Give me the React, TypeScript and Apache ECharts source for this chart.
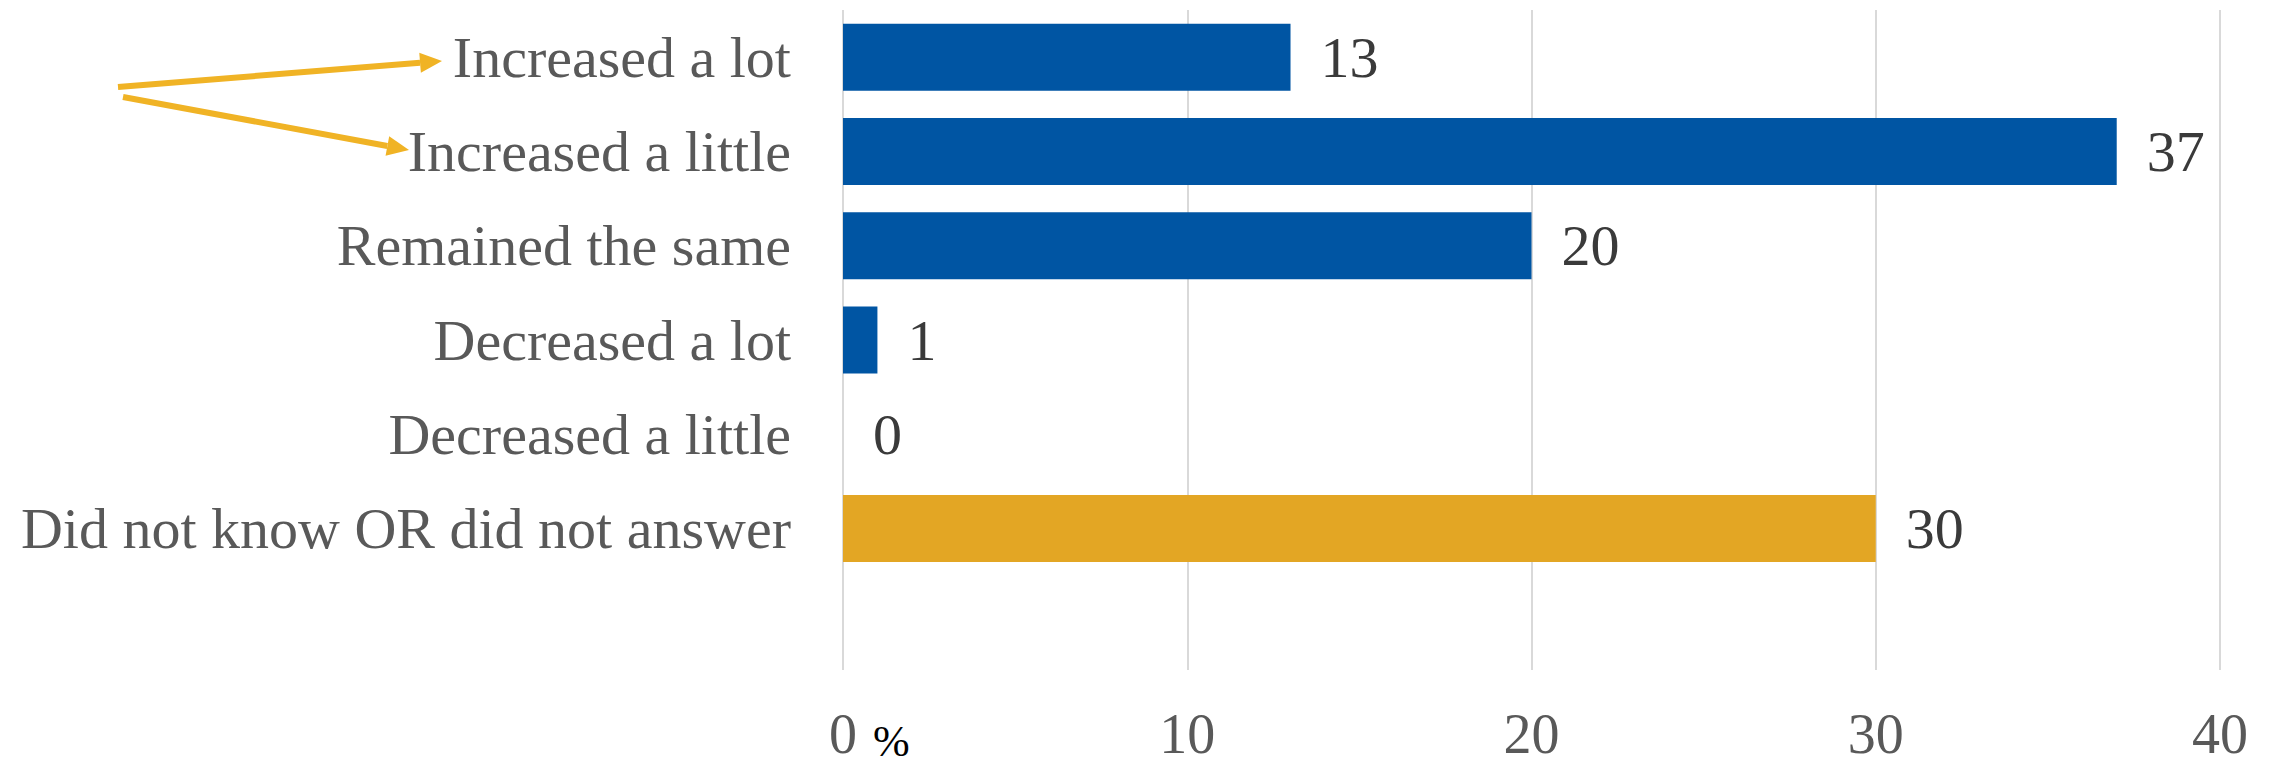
import React, { useEffect, useRef } from "react";
import * as echarts from "echarts";

const categories = [
  "Increased a lot",
  "Increased a little",
  "Remained the same",
  "Decreased a lot",
  "Decreased a little",
  "Did not know OR did not answer",
  "",
];
const values = [13, 37, 20, 1, 0, 30, null];
const barColors = ["#0055A3", "#0055A3", "#0055A3", "#0055A3", "#0055A3", "#E3A624", null];
const xTicks = { min: 0, max: 40, interval: 10 };

const FONT = '"Liberation Serif", "Times New Roman", serif';

function arrow(x1: number, y1: number, x2: number, y2: number, color: string) {
  const dx = x2 - x1;
  const dy = y2 - y1;
  const len = Math.sqrt(dx * dx + dy * dy);
  const ux = dx / len;
  const uy = dy / len;
  const head = 22;
  const hw = 10;
  const bx = x2 - ux * head;
  const by = y2 - uy * head;
  return [
    {
      type: "line",
      shape: { x1, y1, x2: bx, y2: by },
      style: { stroke: color, lineWidth: 6 },
    },
    {
      type: "polygon",
      shape: {
        points: [
          [x2, y2],
          [bx - uy * hw, by + ux * hw],
          [bx + uy * hw, by - ux * hw],
        ],
      },
      style: { fill: color },
    },
  ];
}

export default function App() {
  const ref = useRef<HTMLDivElement>(null);
  useEffect(() => {
    if (!ref.current) return;
    const chart = echarts.init(ref.current, null, { renderer: "svg" });
    const arrowColor = "#F0B325";
    chart.setOption({
      animation: false,
      backgroundColor: "#ffffff",
      grid: { left: 843, right: 57, top: 10, bottom: 96, containLabel: false },
      xAxis: {
        type: "value",
        min: xTicks.min,
        max: xTicks.max,
        interval: xTicks.interval,
        axisLine: { show: false },
        axisTick: { show: false },
        splitLine: { show: true, lineStyle: { color: "#D9D9D9", width: 2 } },
        axisLabel: {
          margin: 36,
          color: "#595959",
          fontSize: 56,
          lineHeight: 56,
          fontFamily: FONT,
        },
      },
      yAxis: {
        type: "category",
        inverse: true,
        data: categories,
        axisLine: { show: false },
        axisTick: { show: false },
        splitLine: { show: false },
        axisLabel: {
          margin: 52,
          color: "#595959",
          fontSize: 58,
          fontFamily: FONT,
        },
      },
      series: [
        {
          type: "bar",
          barWidth: 67,
          data: values.map((v, i) =>
            v === null ? null : { value: v, itemStyle: { color: barColors[i] } }
          ),
          label: {
            show: true,
            position: "right",
            distance: 30,
            color: "#3A3A3A",
            fontSize: 58,
            fontFamily: FONT,
          },
        },
      ],
      graphic: [
        ...arrow(118, 87, 442, 61, arrowColor),
        ...arrow(123, 97, 409, 150, arrowColor),
        {
          type: "text",
          x: 873,
          y: 741,
          style: {
            text: "%",
            fill: "#000000",
            fontSize: 44,
            fontFamily: FONT,
            verticalAlign: "middle",
            align: "left",
          },
        },
      ],
    });
    return () => chart.dispose();
  }, []);
  return (
    <div
      ref={ref}
      style={{ position: "absolute", left: 0, top: 0, width: 2277, height: 766 }}
    />
  );
}
